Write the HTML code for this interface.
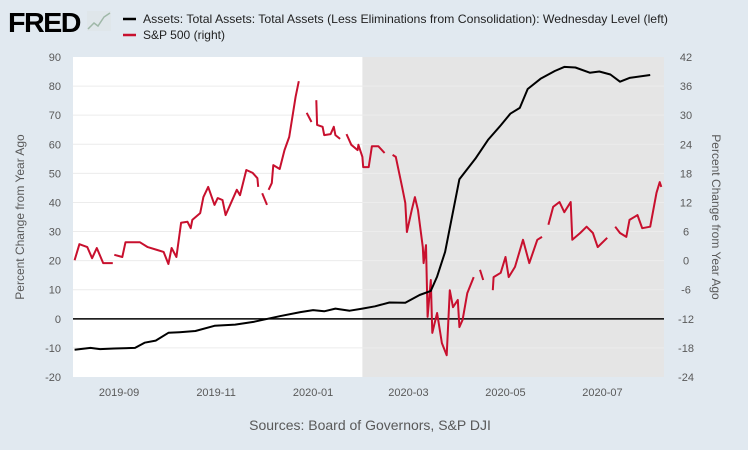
<!DOCTYPE html>
<html><head><meta charset="utf-8"><style>
body{margin:0;background:#e1e9f0;}
svg{display:block;font-family:"Liberation Sans",sans-serif;}
</style></head><body>
<svg id="chart" width="748" height="450">
<rect x="0" y="0" width="748" height="450" fill="#e1e9f0"/>
<g>
<text x="8" y="32" font-size="28" font-weight="bold" fill="#000" letter-spacing="-1.5" textLength="72" lengthAdjust="spacingAndGlyphs">FRED</text>
<rect x="87" y="11" width="24" height="20" fill="#dfe6ea"/>
<polyline points="88,29 94,23 98,26 104,17 110,13" fill="none" stroke="#9fb8a8" stroke-width="1.5"/>
</g>
<g>
<line x1="123" y1="19" x2="136" y2="19" stroke="#000" stroke-width="2.5"/>
<text x="143" y="23" font-size="12" fill="#222" textLength="525" lengthAdjust="spacingAndGlyphs">Assets: Total Assets: Total Assets (Less Eliminations from Consolidation): Wednesday Level (left)</text>
<line x1="123" y1="35" x2="136" y2="35" stroke="#c8102e" stroke-width="2.5"/>
<text x="143" y="39" font-size="12" fill="#222" textLength="82" lengthAdjust="spacingAndGlyphs">S&amp;P 500 (right)</text>
</g>
<rect x="73" y="57" width="591" height="320" fill="#fff"/>
<g id="grid"></g>
<g id="rec"></g>
<g id="gridtop"></g>
<g id="series"></g>
<g id="axes"></g>
<text x="24" y="217" font-size="12" fill="#595959" text-anchor="middle" transform="rotate(-90 24 217)">Percent Change from Year Ago</text>
<text x="712" y="217" font-size="12" fill="#595959" text-anchor="middle" transform="rotate(90 712 217)">Percent Change from Year Ago</text>
<text x="370" y="430" font-size="14" fill="#595959" text-anchor="middle">Sources: Board of Governors, S&amp;P DJI</text>
</svg>
<script>
// days since 2019-08-03
const leftTicks=[90,80,70,60,50,40,30,20,10,0,-10,-20];
const rightTicks=[42,36,30,24,18,12,6,0,-6,-12,-18,-24];
const xTickLabels=["2019-09","2019-11","2020-01","2020-03","2020-05","2020-07"];
const xTickDays=[29,90,151,211,272,333];
const recessionDays=[182,372];
const assetDays=[1,11,17,26,39,45,52,60,67,77,89,102,114,130,143,151,158,165,174,182,190,199,209,218,225,229,234,243,253,261,269,275,281,286,294,303,309,316,325,331,338,344,350,363];
const assetVals=[-10.6,-10,-10.4,-10.2,-10,-8.2,-7.5,-4.8,-4.6,-4.2,-2.4,-2.0,-1,0.9,2.3,3.0,2.6,3.5,2.8,3.5,4.3,5.6,5.5,8.2,9.6,14.5,23,48,55,61.5,66.5,70.5,72.5,79,82.5,85.2,86.6,86.4,84.6,85,84,81.5,82.8,83.8];
const spDays=[1,4,9,12,15,19,25,null,26,31,33,42,47,53,57,60,62,65,68,72,74,75,80,82,85,89,91,94,96,103,105,109,113,116,116.5,null,119,122,null,123,125,126,130,133,136,140,142,null,147,150,null,153,153.5,157,158,162,164,165,168,null,172,175,179,179.5,182,182.5,186,188,192,196,null,201,203,207,209,210,213,215,217,220,220.5,222,223,225,226,229,232,235,237,239,242,243,245,248,252,null,256,258,null,264,264.5,269,272,274,278,283,287,292,295,null,299,302,306,309,313,314,319,323,327,330,336,null,341,344,348,350,355,358,363,367,369,370];
const spVals=[0.1,3.4,2.8,0.5,2.6,-0.5,-0.5,null,1.2,0.75,3.8,3.8,2.8,2.2,1.8,-0.7,2.6,0.75,7.8,8.0,6.7,8.4,9.8,13.1,15.2,11.5,12.9,12.5,9.4,14.6,13.5,18.7,18.1,17.0,15.2,null,13.9,11.5,null,14.6,16.0,19.7,18.9,22.8,25.5,33.8,37.0,null,30.5,28.6,null,33.1,28.0,27.6,25.9,26.1,27.6,25.9,25.1,null,26.1,23.9,22.8,23.9,21.4,19.3,19.3,23.6,23.6,22.2,null,21.8,21.4,15.2,11.9,5.9,10.4,13.1,10.4,2.8,-0.5,3.2,-11.6,-4.0,-14.9,-10.8,-17.0,-19.5,-6.1,-9.6,-8.1,-13.7,-12.2,-6.7,-3.4,null,-1.9,-4.0,null,-6.1,-3.4,-2.5,0.75,-3.4,-1.3,4.3,-0.5,4.3,4.9,null,7.4,11.1,12.1,10.0,12.1,4.3,5.7,7.0,5.7,2.8,4.7,null,7.0,5.7,4.9,8.4,9.4,6.7,7.0,14.0,16.2,15.2];
const NS="http://www.w3.org/2000/svg";
const X0=73,X1=664,Y0=57,Y1=377;
const xs=d=>X0+d*1.59;
const yl=v=>Y0+(90-v)/110*(Y1-Y0);
const yr=v=>Y0+(42-v)/66*(Y1-Y0);
function mk(tag,attrs,parent){const e=document.createElementNS(NS,tag);for(const k in attrs)e.setAttribute(k,attrs[k]);parent.appendChild(e);return e;}
const grid=document.getElementById('grid'),rec=document.getElementById('rec'),gt=document.getElementById('gridtop'),ser=document.getElementById('series'),ax=document.getElementById('axes');
const r=mk('rect',{x:xs(recessionDays[0]),y:Y0,width:X1-xs(recessionDays[0]),height:Y1-Y0,fill:'#e5e5e5'},rec);


leftTicks.forEach((t,i)=>{
  const y=yl(t);
  if(t!==0&&t!==90&&t!==-20){
    const g=mk('line',{x1:X0,x2:X1,y1:y,y2:y,stroke:'#ececec','stroke-width':1},gt);
    
    
  }
  const tx=mk('text',{x:61,y:y+4,'font-size':11,fill:'#595959','text-anchor':'end'},ax);
  tx.textContent=t;
  
  
});
rightTicks.forEach(t=>{
  const tx=mk('text',{x:686,y:yr(t)+4,'font-size':11,fill:'#595959','text-anchor':'middle'},ax);
  tx.textContent=t;
  
  
});
xTickLabels.forEach((l,i)=>{
  const tx=mk('text',{x:xs(xTickDays[i]),y:396,'font-size':11,fill:'#595959','text-anchor':'middle'},ax);
  tx.textContent=l;
  
  
});
const zl=mk('line',{x1:X0,x2:X1,y1:yl(0),y2:yl(0),stroke:'#000','stroke-width':1.5},ser);


let segs=[],cur=[];
spDays.forEach((d,i)=>{if(d===null||spVals[i]===null){if(cur.length)segs.push(cur);cur=[];}else cur.push(xs(d).toFixed(1)+','+yr(spVals[i]).toFixed(1));});
if(cur.length)segs.push(cur);
segs.forEach(s=>{
  const p=mk('polyline',{points:s.join(' '),fill:'none',stroke:'#c8102e','stroke-width':2,'stroke-linejoin':'round'},ser);
  
  
});
const ap=mk('polyline',{points:assetDays.map((d,i)=>xs(d).toFixed(1)+','+yl(assetVals[i]).toFixed(1)).join(' '),fill:'none',stroke:'#000','stroke-width':2,'stroke-linejoin':'round'},ser);


</script>
</body></html>
